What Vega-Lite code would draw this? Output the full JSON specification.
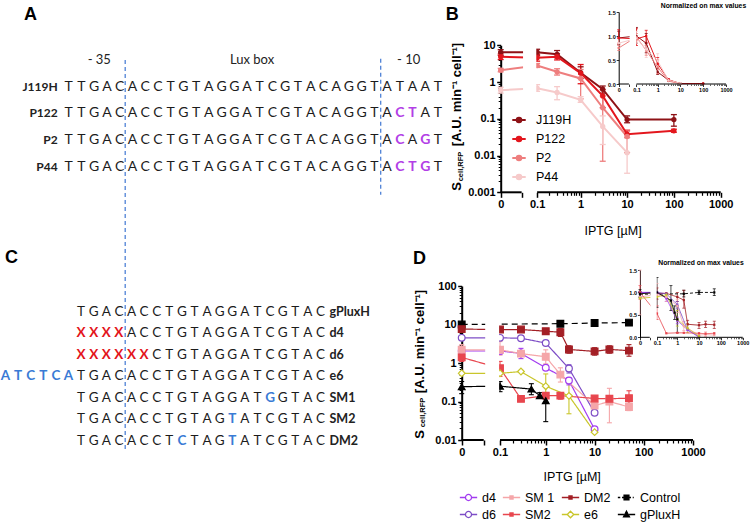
{
"$schema":"https://vega.github.io/schema/vega-lite/v6.json",
"width":750,"height":523,"autosize":{"type":"none"},"padding":0,"background":"white",
"config":{"view":{"stroke":null},"font":"Liberation Sans",
 "axis":{"grid":false,"domainColor":"#000","tickColor":"#000","labelColor":"#000","titleColor":"#000","labelFont":"Liberation Sans","titleFont":"Liberation Sans","labelFontWeight":"bold","labelOverlap":false,"labelFlush":false,"labelBound":false}},
"datasets":{
"seqA":[
{"r":1,"p":-5,"c":"T"},{"r":1,"p":-4,"c":"T"},{"r":1,"p":-3,"c":"G"},{"r":1,"p":-2,"c":"A"},{"r":1,"p":-1,"c":"C"},{"r":1,"p":0,"c":"A"},{"r":1,"p":1,"c":"C"},{"r":1,"p":2,"c":"C"},{"r":1,"p":3,"c":"T"},{"r":1,"p":4,"c":"G"},{"r":1,"p":5,"c":"T"},{"r":1,"p":6,"c":"A"},{"r":1,"p":7,"c":"G"},{"r":1,"p":8,"c":"G"},{"r":1,"p":9,"c":"A"},{"r":1,"p":10,"c":"T"},{"r":1,"p":11,"c":"C"},{"r":1,"p":12,"c":"G"},{"r":1,"p":13,"c":"T"},{"r":1,"p":14,"c":"A"},{"r":1,"p":15,"c":"C"},{"r":1,"p":16,"c":"A"},{"r":1,"p":17,"c":"G"},{"r":1,"p":18,"c":"G"},{"r":1,"p":19,"c":"T"},{"r":1,"p":20,"c":"A"},{"r":1,"p":21,"c":"T"},{"r":1,"p":22,"c":"A"},{"r":1,"p":23,"c":"A"},{"r":1,"p":24,"c":"T"},
{"r":2,"p":-5,"c":"T"},{"r":2,"p":-4,"c":"T"},{"r":2,"p":-3,"c":"G"},{"r":2,"p":-2,"c":"A"},{"r":2,"p":-1,"c":"C"},{"r":2,"p":0,"c":"A"},{"r":2,"p":1,"c":"C"},{"r":2,"p":2,"c":"C"},{"r":2,"p":3,"c":"T"},{"r":2,"p":4,"c":"G"},{"r":2,"p":5,"c":"T"},{"r":2,"p":6,"c":"A"},{"r":2,"p":7,"c":"G"},{"r":2,"p":8,"c":"G"},{"r":2,"p":9,"c":"A"},{"r":2,"p":10,"c":"T"},{"r":2,"p":11,"c":"C"},{"r":2,"p":12,"c":"G"},{"r":2,"p":13,"c":"T"},{"r":2,"p":14,"c":"A"},{"r":2,"p":15,"c":"C"},{"r":2,"p":16,"c":"A"},{"r":2,"p":17,"c":"G"},{"r":2,"p":18,"c":"G"},{"r":2,"p":19,"c":"T"},{"r":2,"p":20,"c":"A"},{"r":2,"p":21,"c":"C","k":"m"},{"r":2,"p":22,"c":"T","k":"m"},{"r":2,"p":23,"c":"A"},{"r":2,"p":24,"c":"T"},
{"r":3,"p":-5,"c":"T"},{"r":3,"p":-4,"c":"T"},{"r":3,"p":-3,"c":"G"},{"r":3,"p":-2,"c":"A"},{"r":3,"p":-1,"c":"C"},{"r":3,"p":0,"c":"A"},{"r":3,"p":1,"c":"C"},{"r":3,"p":2,"c":"C"},{"r":3,"p":3,"c":"T"},{"r":3,"p":4,"c":"G"},{"r":3,"p":5,"c":"T"},{"r":3,"p":6,"c":"A"},{"r":3,"p":7,"c":"G"},{"r":3,"p":8,"c":"G"},{"r":3,"p":9,"c":"A"},{"r":3,"p":10,"c":"T"},{"r":3,"p":11,"c":"C"},{"r":3,"p":12,"c":"G"},{"r":3,"p":13,"c":"T"},{"r":3,"p":14,"c":"A"},{"r":3,"p":15,"c":"C"},{"r":3,"p":16,"c":"A"},{"r":3,"p":17,"c":"G"},{"r":3,"p":18,"c":"G"},{"r":3,"p":19,"c":"T"},{"r":3,"p":20,"c":"A"},{"r":3,"p":21,"c":"C","k":"m"},{"r":3,"p":22,"c":"A"},{"r":3,"p":23,"c":"G","k":"m"},{"r":3,"p":24,"c":"T"},
{"r":4,"p":-5,"c":"T"},{"r":4,"p":-4,"c":"T"},{"r":4,"p":-3,"c":"G"},{"r":4,"p":-2,"c":"A"},{"r":4,"p":-1,"c":"C"},{"r":4,"p":0,"c":"A"},{"r":4,"p":1,"c":"C"},{"r":4,"p":2,"c":"C"},{"r":4,"p":3,"c":"T"},{"r":4,"p":4,"c":"G"},{"r":4,"p":5,"c":"T"},{"r":4,"p":6,"c":"A"},{"r":4,"p":7,"c":"G"},{"r":4,"p":8,"c":"G"},{"r":4,"p":9,"c":"A"},{"r":4,"p":10,"c":"T"},{"r":4,"p":11,"c":"C"},{"r":4,"p":12,"c":"G"},{"r":4,"p":13,"c":"T"},{"r":4,"p":14,"c":"A"},{"r":4,"p":15,"c":"C"},{"r":4,"p":16,"c":"A"},{"r":4,"p":17,"c":"G"},{"r":4,"p":18,"c":"G"},{"r":4,"p":19,"c":"T"},{"r":4,"p":20,"c":"A"},{"r":4,"p":21,"c":"C","k":"m"},{"r":4,"p":22,"c":"T","k":"m"},{"r":4,"p":23,"c":"G","k":"m"},{"r":4,"p":24,"c":"T"}
],
"hdrA":[{"t":"- 35","p":-2.6,"r":0},{"t":"Lux box","p":9.4,"r":0},{"t":"- 10","p":21.7,"r":0}],
"labA":[{"g":"J119H","r":1,"p":-5},{"g":"P122","r":2,"p":-5},{"g":"P2","r":3,"p":-5},{"g":"P44","r":4,"p":-5}],
"dashA":[{"p":19.5,"r1":-0.05,"r2":5.05}],
"seqC":[
{"r":0,"p":-4,"c":"T"},{"r":0,"p":-3,"c":"G"},{"r":0,"p":-2,"c":"A"},{"r":0,"p":-1,"c":"C"},{"r":0,"p":0,"c":"A"},{"r":0,"p":1,"c":"C"},{"r":0,"p":2,"c":"C"},{"r":0,"p":3,"c":"T"},{"r":0,"p":4,"c":"G"},{"r":0,"p":5,"c":"T"},{"r":0,"p":6,"c":"A"},{"r":0,"p":7,"c":"G"},{"r":0,"p":8,"c":"G"},{"r":0,"p":9,"c":"A"},{"r":0,"p":10,"c":"T"},{"r":0,"p":11,"c":"C"},{"r":0,"p":12,"c":"G"},{"r":0,"p":13,"c":"T"},{"r":0,"p":14,"c":"A"},{"r":0,"p":15,"c":"C"},
{"r":1,"p":-4,"c":"X","k":"x"},{"r":1,"p":-3,"c":"X","k":"x"},{"r":1,"p":-2,"c":"X","k":"x"},{"r":1,"p":-1,"c":"X","k":"x"},{"r":1,"p":0,"c":"A"},{"r":1,"p":1,"c":"C"},{"r":1,"p":2,"c":"C"},{"r":1,"p":3,"c":"T"},{"r":1,"p":4,"c":"G"},{"r":1,"p":5,"c":"T"},{"r":1,"p":6,"c":"A"},{"r":1,"p":7,"c":"G"},{"r":1,"p":8,"c":"G"},{"r":1,"p":9,"c":"A"},{"r":1,"p":10,"c":"T"},{"r":1,"p":11,"c":"C"},{"r":1,"p":12,"c":"G"},{"r":1,"p":13,"c":"T"},{"r":1,"p":14,"c":"A"},{"r":1,"p":15,"c":"C"},
{"r":2,"p":-4,"c":"X","k":"x"},{"r":2,"p":-3,"c":"X","k":"x"},{"r":2,"p":-2,"c":"X","k":"x"},{"r":2,"p":-1,"c":"X","k":"x"},{"r":2,"p":0,"c":"X","k":"x"},{"r":2,"p":1,"c":"X","k":"x"},{"r":2,"p":2,"c":"C"},{"r":2,"p":3,"c":"T"},{"r":2,"p":4,"c":"G"},{"r":2,"p":5,"c":"T"},{"r":2,"p":6,"c":"A"},{"r":2,"p":7,"c":"G"},{"r":2,"p":8,"c":"G"},{"r":2,"p":9,"c":"A"},{"r":2,"p":10,"c":"T"},{"r":2,"p":11,"c":"C"},{"r":2,"p":12,"c":"G"},{"r":2,"p":13,"c":"T"},{"r":2,"p":14,"c":"A"},{"r":2,"p":15,"c":"C"},
{"r":3,"p":-10,"c":"A","k":"b"},{"r":3,"p":-9,"c":"T","k":"b"},{"r":3,"p":-8,"c":"C","k":"b"},{"r":3,"p":-7,"c":"T","k":"b"},{"r":3,"p":-6,"c":"C","k":"b"},{"r":3,"p":-5,"c":"A","k":"b"},{"r":3,"p":-4,"c":"T"},{"r":3,"p":-3,"c":"G"},{"r":3,"p":-2,"c":"A"},{"r":3,"p":-1,"c":"C"},{"r":3,"p":0,"c":"A"},{"r":3,"p":1,"c":"C"},{"r":3,"p":2,"c":"C"},{"r":3,"p":3,"c":"T"},{"r":3,"p":4,"c":"G"},{"r":3,"p":5,"c":"T"},{"r":3,"p":6,"c":"A"},{"r":3,"p":7,"c":"G"},{"r":3,"p":8,"c":"G"},{"r":3,"p":9,"c":"A"},{"r":3,"p":10,"c":"T"},{"r":3,"p":11,"c":"C"},{"r":3,"p":12,"c":"G"},{"r":3,"p":13,"c":"T"},{"r":3,"p":14,"c":"A"},{"r":3,"p":15,"c":"C"},
{"r":4,"p":-4,"c":"T"},{"r":4,"p":-3,"c":"G"},{"r":4,"p":-2,"c":"A"},{"r":4,"p":-1,"c":"C"},{"r":4,"p":0,"c":"A"},{"r":4,"p":1,"c":"C"},{"r":4,"p":2,"c":"C"},{"r":4,"p":3,"c":"T"},{"r":4,"p":4,"c":"G"},{"r":4,"p":5,"c":"T"},{"r":4,"p":6,"c":"A"},{"r":4,"p":7,"c":"G"},{"r":4,"p":8,"c":"G"},{"r":4,"p":9,"c":"A"},{"r":4,"p":10,"c":"T"},{"r":4,"p":11,"c":"G","k":"b"},{"r":4,"p":12,"c":"G"},{"r":4,"p":13,"c":"T"},{"r":4,"p":14,"c":"A"},{"r":4,"p":15,"c":"C"},
{"r":5,"p":-4,"c":"T"},{"r":5,"p":-3,"c":"G"},{"r":5,"p":-2,"c":"A"},{"r":5,"p":-1,"c":"C"},{"r":5,"p":0,"c":"A"},{"r":5,"p":1,"c":"C"},{"r":5,"p":2,"c":"C"},{"r":5,"p":3,"c":"T"},{"r":5,"p":4,"c":"G"},{"r":5,"p":5,"c":"T"},{"r":5,"p":6,"c":"A"},{"r":5,"p":7,"c":"G"},{"r":5,"p":8,"c":"T","k":"b"},{"r":5,"p":9,"c":"A"},{"r":5,"p":10,"c":"T"},{"r":5,"p":11,"c":"C"},{"r":5,"p":12,"c":"G"},{"r":5,"p":13,"c":"T"},{"r":5,"p":14,"c":"A"},{"r":5,"p":15,"c":"C"},
{"r":6,"p":-4,"c":"T"},{"r":6,"p":-3,"c":"G"},{"r":6,"p":-2,"c":"A"},{"r":6,"p":-1,"c":"C"},{"r":6,"p":0,"c":"A"},{"r":6,"p":1,"c":"C"},{"r":6,"p":2,"c":"C"},{"r":6,"p":3,"c":"T"},{"r":6,"p":4,"c":"C","k":"b"},{"r":6,"p":5,"c":"T"},{"r":6,"p":6,"c":"A"},{"r":6,"p":7,"c":"G"},{"r":6,"p":8,"c":"T","k":"b"},{"r":6,"p":9,"c":"A"},{"r":6,"p":10,"c":"T"},{"r":6,"p":11,"c":"C"},{"r":6,"p":12,"c":"G"},{"r":6,"p":13,"c":"T"},{"r":6,"p":14,"c":"A"},{"r":6,"p":15,"c":"C"}
],
"labC":[{"g":"gPluxH","r":0,"p":15},{"g":"d4","r":1,"p":15},{"g":"d6","r":2,"p":15},{"g":"e6","r":3,"p":15},{"g":"SM1","r":4,"p":15},{"g":"SM2","r":5,"p":15},{"g":"DM2","r":6,"p":15}],
"dashC":[{"p":-0.5,"r1":-11.68,"r2":6.5}],
"brk":[{"a":0,"b":0.036},{"a":0.1,"b":1000}],
"gap":[{"a":0.04,"b":0.095}],
"bm":[
{"s":"J119H","x":0,"y":6.45,"lo":5.3,"hi":7.6},{"s":"J119H","x":0.1,"y":6.5,"lo":5.2,"hi":7.8},{"s":"J119H","x":0.3,"y":5.7,"lo":4.6,"hi":7.2},{"s":"J119H","x":1,"y":1.8,"lo":1.25,"hi":2.6},{"s":"J119H","x":3,"y":0.64,"lo":0.5,"hi":0.78},{"s":"J119H","x":10,"y":0.095,"lo":0.078,"hi":0.12},{"s":"J119H","x":100,"y":0.095,"lo":0.063,"hi":0.13},
{"s":"P122","x":0,"y":4.9,"lo":4.1,"hi":5.8},{"s":"P122","x":0.1,"y":4.6,"lo":3.7,"hi":5.6},{"s":"P122","x":0.3,"y":4.9,"lo":4.0,"hi":5.9},{"s":"P122","x":1,"y":1.75,"lo":0.9,"hi":3.0},{"s":"P122","x":3,"y":0.42,"lo":0.2,"hi":0.62},{"s":"P122","x":10,"y":0.038,"lo":0.031,"hi":0.047},{"s":"P122","x":100,"y":0.047,"lo":0.043,"hi":0.052},
{"s":"P2","x":0,"y":2.1,"lo":1.9,"hi":2.35},{"s":"P2","x":0.1,"y":2.8,"lo":2.5,"hi":3.2},{"s":"P2","x":0.3,"y":1.9,"lo":1.55,"hi":2.3},{"s":"P2","x":1,"y":1.25,"lo":0.35,"hi":2.2},{"s":"P2","x":3,"y":0.2,"lo":0.007,"hi":0.42},{"s":"P2","x":10,"y":0.033,"lo":0.012,"hi":0.05},
{"s":"P44","x":0,"y":0.6,"lo":0.5,"hi":0.72},{"s":"P44","x":0.1,"y":0.68,"lo":0.56,"hi":0.85},{"s":"P44","x":0.3,"y":0.52,"lo":0.33,"hi":0.75},{"s":"P44","x":1,"y":0.33,"lo":0.28,"hi":0.4},{"s":"P44","x":3,"y":0.062,"lo":0.02,"hi":0.12},{"s":"P44","x":10,"y":0.012,"lo":0.0033,"hi":0.03}
],
"bi":[
{"s":"J119H","x":0,"n":0.96,"nlo":0.82,"nhi":1.1},{"s":"J119H","x":0.1,"n":1.0,"nlo":0.85,"nhi":1.18},{"s":"J119H","x":0.3,"n":0.85,"nlo":0.65,"nhi":1.05},{"s":"J119H","x":1,"n":0.25,"nlo":0.2,"nhi":0.32},{"s":"J119H","x":3,"n":0.08,"nlo":0.06,"nhi":0.1},{"s":"J119H","x":10,"n":0.01},{"s":"J119H","x":100,"n":0.01},
{"s":"P122","x":0,"n":0.96,"nlo":0.85,"nhi":1.13},{"s":"P122","x":0.1,"n":0.94,"nlo":0.8,"nhi":1.15},{"s":"P122","x":0.3,"n":1.0,"nlo":0.87,"nhi":1.12},{"s":"P122","x":1,"n":0.42,"nlo":0.3,"nhi":0.55},{"s":"P122","x":3,"n":0.09,"nlo":0.07,"nhi":0.11},{"s":"P122","x":10,"n":0.008},{"s":"P122","x":100,"n":0.01},
{"s":"P2","x":0,"n":0.75,"nlo":0.7,"nhi":0.8},{"s":"P2","x":0.1,"n":0.98,"nlo":0.9,"nhi":1.05},{"s":"P2","x":0.3,"n":0.7,"nlo":0.6,"nhi":0.8},{"s":"P2","x":1,"n":0.35,"nlo":0.22,"nhi":0.5},{"s":"P2","x":3,"n":0.06},{"s":"P2","x":10,"n":0.005},
{"s":"P44","x":0,"n":0.85,"nlo":0.75,"nhi":0.95},{"s":"P44","x":0.1,"n":0.95,"nlo":0.85,"nhi":1.1},{"s":"P44","x":0.3,"n":0.72,"nlo":0.55,"nhi":0.85},{"s":"P44","x":1,"n":0.48,"nlo":0.3,"nhi":0.63},{"s":"P44","x":3,"n":0.08},{"s":"P44","x":10,"n":0.015}
],
"dm":[
{"s":"Control","x":0,"y":10.0,"lo":9.3,"hi":10.7},{"s":"Control","x":2,"y":10.5,"lo":9.8,"hi":11.3},{"s":"Control","x":10,"y":10.9,"lo":9.8,"hi":12.0},{"s":"Control","x":50,"y":11.2,"lo":10.4,"hi":12.0},
{"s":"DM2","x":0,"y":7.6,"lo":6.8,"hi":8.5},{"s":"DM2","x":0.1,"y":7.4,"lo":6.5,"hi":8.5},{"s":"DM2","x":0.3,"y":7.4,"lo":6.8,"hi":8.0},{"s":"DM2","x":1,"y":6.7,"lo":5.8,"hi":7.6},{"s":"DM2","x":2,"y":6.3,"lo":4.9,"hi":7.9},{"s":"DM2","x":3,"y":2.25,"lo":1.8,"hi":2.8},{"s":"DM2","x":10,"y":2.0,"lo":1.6,"hi":2.5},{"s":"DM2","x":20,"y":2.25,"lo":1.8,"hi":2.8},{"s":"DM2","x":50,"y":2.1,"lo":1.5,"hi":3.0},
{"s":"d6","x":0,"y":4.5,"lo":4.2,"hi":4.8},{"s":"d6","x":0.1,"y":4.5,"lo":4.1,"hi":4.9},{"s":"d6","x":0.3,"y":4.4,"lo":4.2,"hi":4.6},{"s":"d6","x":1,"y":3.3,"lo":2.9,"hi":3.7},{"s":"d6","x":3,"y":0.72,"lo":0.55,"hi":0.9},{"s":"d6","x":10,"y":0.051,"lo":0.045,"hi":0.058},
{"s":"d4","x":0,"y":2.05,"lo":1.8,"hi":2.3},{"s":"d4","x":0.1,"y":2.05,"lo":1.7,"hi":2.5},{"s":"d4","x":0.3,"y":1.78,"lo":1.3,"hi":2.4},{"s":"d4","x":1,"y":0.75,"lo":0.68,"hi":0.82},{"s":"d4","x":3,"y":0.35,"lo":0.27,"hi":0.42},{"s":"d4","x":10,"y":0.019,"lo":0.017,"hi":0.021},
{"s":"SM 1","x":0,"y":2.2,"lo":1.5,"hi":3.0},{"s":"SM 1","x":0.1,"y":2.2,"lo":1.6,"hi":3.6},{"s":"SM 1","x":0.3,"y":1.75,"lo":1.5,"hi":2.0},{"s":"SM 1","x":1,"y":1.45,"lo":0.95,"hi":2.2},{"s":"SM 1","x":2,"y":0.5,"lo":0.32,"hi":0.75},{"s":"SM 1","x":10,"y":0.078,"lo":0.065,"hi":0.09},{"s":"SM 1","x":20,"y":0.1,"lo":0.028,"hi":0.22},{"s":"SM 1","x":50,"y":0.072,"lo":0.058,"hi":0.09},
{"s":"SM2","x":0,"y":1.4,"lo":1.1,"hi":1.7},{"s":"SM2","x":0.1,"y":0.73,"lo":0.45,"hi":1.1},{"s":"SM2","x":0.3,"y":0.117,"lo":0.11,"hi":0.125},{"s":"SM2","x":1,"y":0.142,"lo":0.13,"hi":0.155},{"s":"SM2","x":2,"y":0.142,"lo":0.115,"hi":0.17},{"s":"SM2","x":10,"y":0.12,"lo":0.105,"hi":0.135},{"s":"SM2","x":20,"y":0.118,"lo":0.1,"hi":0.135},{"s":"SM2","x":50,"y":0.122,"lo":0.085,"hi":0.19},
{"s":"e6","x":0,"y":0.54,"lo":0.5,"hi":0.58},{"s":"e6","x":0.1,"y":0.54,"lo":0.5,"hi":0.6},{"s":"e6","x":0.3,"y":0.6,"lo":0.57,"hi":0.64},{"s":"e6","x":1,"y":0.25,"lo":0.15,"hi":0.52},{"s":"e6","x":3,"y":0.14,"lo":0.048,"hi":0.3},{"s":"e6","x":10,"y":0.016,"lo":0.015,"hi":0.017},
{"s":"gPluxH","x":0,"y":0.243,"lo":0.16,"hi":0.33},{"s":"gPluxH","x":0.1,"y":0.25,"lo":0.18,"hi":0.33},{"s":"gPluxH","x":0.5,"y":0.21,"lo":0.15,"hi":0.29},{"s":"gPluxH","x":0.75,"y":0.142,"lo":0.12,"hi":0.17},{"s":"gPluxH","x":1,"y":0.105,"lo":0.03,"hi":0.16}
],
"di":[
{"s":"Control","x":0,"n":0.96,"nlo":0.9,"nhi":1.02},{"s":"Control","x":2,"n":0.97,"nlo":0.9,"nhi":1.05},{"s":"Control","x":10,"n":1.0,"nlo":0.95,"nhi":1.05},{"s":"Control","x":50,"n":1.0,"nlo":0.93,"nhi":1.08},
{"s":"DM2","x":0,"n":1.0},{"s":"DM2","x":0.1,"n":0.98,"nlo":0.85,"nhi":1.1},{"s":"DM2","x":0.3,"n":0.98},{"s":"DM2","x":1,"n":0.9,"nlo":0.8,"nhi":1.0},{"s":"DM2","x":2,"n":0.83,"nlo":0.65,"nhi":1.05},{"s":"DM2","x":3,"n":0.29,"nlo":0.2,"nhi":0.38},{"s":"DM2","x":10,"n":0.27,"nlo":0.2,"nhi":0.33},{"s":"DM2","x":20,"n":0.29,"nlo":0.22,"nhi":0.36},{"s":"DM2","x":50,"n":0.28,"nlo":0.2,"nhi":0.36},
{"s":"d6","x":0,"n":1.0},{"s":"d6","x":0.1,"n":1.0},{"s":"d6","x":0.3,"n":0.97},{"s":"d6","x":1,"n":0.73,"nlo":0.65,"nhi":0.8},{"s":"d6","x":3,"n":0.16},{"s":"d6","x":10,"n":0.01},
{"s":"d4","x":0,"n":1.0},{"s":"d4","x":0.1,"n":1.0},{"s":"d4","x":0.3,"n":0.87,"nlo":0.8,"nhi":0.95},{"s":"d4","x":1,"n":0.37,"nlo":0.3,"nhi":0.45},{"s":"d4","x":3,"n":0.17},{"s":"d4","x":10,"n":0.01},
{"s":"SM 1","x":0,"n":0.9,"nlo":0.5,"nhi":1.5},{"s":"SM 1","x":0.1,"n":0.95,"nlo":0.7,"nhi":1.2},{"s":"SM 1","x":0.3,"n":0.9,"nlo":0.8,"nhi":1.0},{"s":"SM 1","x":1,"n":0.7,"nlo":0.55,"nhi":0.85},{"s":"SM 1","x":2,"n":0.25,"nlo":0.15,"nhi":0.35},{"s":"SM 1","x":10,"n":0.05},{"s":"SM 1","x":20,"n":0.06,"nlo":0.02,"nhi":0.12},{"s":"SM 1","x":50,"n":0.05},
{"s":"SM2","x":0,"n":1.0,"nlo":0.85,"nhi":1.15},{"s":"SM2","x":0.1,"n":0.53,"nlo":0.4,"nhi":0.7},{"s":"SM2","x":0.3,"n":0.09},{"s":"SM2","x":1,"n":0.1},{"s":"SM2","x":2,"n":0.1},{"s":"SM2","x":10,"n":0.09},{"s":"SM2","x":20,"n":0.08},{"s":"SM2","x":50,"n":0.09},
{"s":"e6","x":0,"n":0.87},{"s":"e6","x":0.1,"n":0.9},{"s":"e6","x":0.3,"n":0.95},{"s":"e6","x":1,"n":0.4,"nlo":0.25,"nhi":0.6},{"s":"e6","x":3,"n":0.2,"nlo":0.1,"nhi":0.3},{"s":"e6","x":10,"n":0.025},
{"s":"gPluxH","x":0,"n":0.97,"nlo":0.88,"nhi":1.06},{"s":"gPluxH","x":0.1,"n":1.0,"nlo":0.67,"nhi":1.33},{"s":"gPluxH","x":0.5,"n":0.82,"nlo":0.6,"nhi":1.15},{"s":"gPluxH","x":0.75,"n":0.55,"nlo":0.4,"nhi":0.7},{"s":"gPluxH","x":1,"n":0.4,"nlo":0.1,"nhi":0.7}
]
},
"layer":[
{"layer":[
 {"data":{"name":"dashA"},"mark":{"type":"rule","color":"#4F82D6","strokeDash":[4,3],"strokeWidth":1.3},
  "encoding":{"x":{"field":"p","type":"quantitative","scale":{"domain":[-5,24],"range":[68.7,438]},"axis":{"orient":"top","offset":-14.5,"domain":false,"ticks":false,"labels":false,"values":[],"title":"A","titleX":30,"titleY":0,"titleFontSize":18,"titleFontWeight":"bold","titleAlign":"center","titleBaseline":"middle","titleAngle":0}},
  "y":{"field":"r1","type":"quantitative","scale":{"domain":[0,4],"range":[60,166.8]},"axis":null},"y2":{"field":"r2"}}},
 {"data":{"name":"seqA"},"transform":[{"filter":"!datum.k"}],"mark":{"type":"text","font":"Lato","fontSize":14,"color":"#1c1c1c","baseline":"middle","align":"center"},
  "encoding":{"x":{"field":"p","type":"quantitative","scale":{"domain":[-5,24],"range":[68.7,438]},"axis":null},"y":{"field":"r","type":"quantitative","scale":{"domain":[0,4],"range":[60,166.8]},"axis":null},"text":{"field":"c"}}},
 {"data":{"name":"seqA"},"transform":[{"filter":"datum.k"}],"mark":{"type":"text","font":"Lato","fontSize":14,"fontWeight":"bold","color":"#B23EE6","baseline":"middle","align":"center"},
  "encoding":{"x":{"field":"p","type":"quantitative","scale":{"domain":[-5,24],"range":[68.7,438]},"axis":null},"y":{"field":"r","type":"quantitative","scale":{"domain":[0,4],"range":[60,166.8]},"axis":null},"text":{"field":"c"}}},
 {"data":{"name":"hdrA"},"mark":{"type":"text","font":"Lato","fontSize":13,"color":"#222","baseline":"middle","align":"center"},
  "encoding":{"x":{"field":"p","type":"quantitative","scale":{"domain":[-5,24],"range":[68.7,438]},"axis":null},"y":{"field":"r","type":"quantitative","scale":{"domain":[0,4],"range":[60,166.8]},"axis":null},"text":{"field":"t"}}},
 {"data":{"name":"labA"},"mark":{"type":"text","font":"Lato","fontSize":12,"fontWeight":"bold","color":"#222","baseline":"middle","align":"right","dx":-11},
  "encoding":{"x":{"field":"p","type":"quantitative","scale":{"domain":[-5,24],"range":[68.7,438]},"axis":null},"y":{"field":"r","type":"quantitative","scale":{"domain":[0,4],"range":[60,166.8]},"axis":null},"text":{"field":"g"}}}
],"resolve":{"axis":{"x":"independent","y":"independent"}}},
{"layer":[
 {"data":{"name":"dashC"},"mark":{"type":"rule","color":"#4F82D6","strokeDash":[4,3],"strokeWidth":1.3},
  "encoding":{"x":{"field":"p","type":"quantitative","scale":{"domain":[-10,15],"range":[5.5,320.5]},"axis":{"orient":"top","offset":-257,"domain":false,"ticks":false,"labels":false,"values":[],"title":"C","titleX":11,"titleY":0,"titleFontSize":18,"titleFontWeight":"bold","titleAlign":"center","titleBaseline":"middle","titleAngle":0}},
  "y":{"field":"r1","type":"quantitative","scale":{"domain":[0,6],"range":[311.7,441]},"axis":null},"y2":{"field":"r2"}}},
 {"data":{"name":"seqC"},"transform":[{"filter":"!datum.k"}],"mark":{"type":"text","font":"Lato","fontSize":13.5,"color":"#1c1c1c","baseline":"middle","align":"center"},
  "encoding":{"x":{"field":"p","type":"quantitative","scale":{"domain":[-10,15],"range":[5.5,320.5]},"axis":null},"y":{"field":"r","type":"quantitative","scale":{"domain":[0,6],"range":[311.7,441]},"axis":null},"text":{"field":"c"}}},
 {"data":{"name":"seqC"},"transform":[{"filter":"datum.k"}],"mark":{"type":"text","font":"Lato","fontSize":13.5,"fontWeight":"bold","baseline":"middle","align":"center"},
  "encoding":{"x":{"field":"p","type":"quantitative","scale":{"domain":[-10,15],"range":[5.5,320.5]},"axis":null},"y":{"field":"r","type":"quantitative","scale":{"domain":[0,6],"range":[311.7,441]},"axis":null},"text":{"field":"c"},
   "color":{"field":"k","type":"nominal","scale":{"domain":["x","b"],"range":["#E3141B","#3A7BD5"]},"legend":null}}},
 {"data":{"name":"labC"},"mark":{"type":"text","font":"Lato","fontSize":12.5,"fontWeight":"bold","color":"#222","baseline":"middle","align":"left","dx":9},
  "encoding":{"x":{"field":"p","type":"quantitative","scale":{"domain":[-10,15],"range":[5.5,320.5]},"axis":null},"y":{"field":"r","type":"quantitative","scale":{"domain":[0,6],"range":[311.7,441]},"axis":null},"text":{"field":"g"}}}
],"resolve":{"axis":{"x":"independent","y":"independent"}}},
{"layer":[
 {"layer":[
  {"data":{"name":"bm"},"mark":{"type":"rule","strokeWidth":1.3},
   "encoding":{"x":{"field":"x","type":"quantitative","scale":{"type":"symlog","constant":0.02,"domain":[0,1000],"range":[500.7,720.7]},"axis":null},
    "y":{"field":"lo","type":"quantitative","scale":{"type":"log","domain":[0.001,10],"range":[192.3,45.3]},"axis":{"orient":"left","offset":-500.7,"values":[],"ticks":false,"labels":false,"domain":false,"title":"[A.U. min⁻¹ cell⁻¹]","titleFontSize":13,"titleFontWeight":"bold","titleX":-44,"titleY":94,"titleAlign":"center","titleBaseline":"middle","titleAngle":270}},
    "y2":{"field":"hi"},
    "color":{"field":"s","type":"nominal","scale":{"domain":["J119H","P122","P2","P44"],"range":["#8E1216","#E3161D","#EE7E7E","#F6CACA"]},"legend":null}}},
  {"data":{"name":"bm"},"mark":{"type":"tick","orient":"horizontal","size":6,"thickness":1.3,"opacity":1},
   "encoding":{"x":{"field":"x","type":"quantitative","scale":{"type":"symlog","constant":0.02,"domain":[0,1000],"range":[500.7,720.7]},"axis":null},
    "y":{"field":"lo","type":"quantitative","scale":{"type":"log","domain":[0.001,10],"range":[192.3,45.3]},"axis":null},
    "color":{"field":"s","type":"nominal","scale":{"domain":["J119H","P122","P2","P44"],"range":["#8E1216","#E3161D","#EE7E7E","#F6CACA"]},"legend":null}}},
  {"data":{"name":"bm"},"mark":{"type":"tick","orient":"horizontal","size":6,"thickness":1.3,"opacity":1},
   "encoding":{"x":{"field":"x","type":"quantitative","scale":{"type":"symlog","constant":0.02,"domain":[0,1000],"range":[500.7,720.7]},"axis":null},
    "y":{"field":"hi","type":"quantitative","scale":{"type":"log","domain":[0.001,10],"range":[192.3,45.3]},"axis":null},
    "color":{"field":"s","type":"nominal","scale":{"domain":["J119H","P122","P2","P44"],"range":["#8E1216","#E3161D","#EE7E7E","#F6CACA"]},"legend":null}}},
  {"data":{"name":"bm"},"mark":{"type":"line","strokeWidth":2},
   "encoding":{"x":{"field":"x","type":"quantitative","scale":{"type":"symlog","constant":0.02,"domain":[0,1000],"range":[500.7,720.7]},
     "axis":{"orient":"bottom","offset":-330.7,"values":[0,0.036,0.1,1,10,100,1000],"labelExpr":"datum.value > 0.03 && datum.value < 0.05 ? '' : format(datum.value, '~g')","domain":false,"tickSize":5,"tickWidth":1.5,"labelFontSize":11,"labelPadding":1.5,"title":"IPTG [µM]","titleFontSize":12.5,"titleFontWeight":"normal","titleX":612.5,"titleY":38,"titleAlign":"center","titleBaseline":"middle"}},
    "y":{"field":"y","type":"quantitative","scale":{"type":"log","domain":[0.001,10],"range":[192.3,45.3]},
     "axis":{"orient":"left","offset":-500.7,"values":[0.001,0.01,0.1,1,10],"format":"~g","domainWidth":2,"tickSize":4,"tickWidth":1.5,"labelFontSize":11,"labelPadding":1.5,"title":"S","titleFontSize":13,"titleFontWeight":"bold","titleX":-44,"titleY":186,"titleAlign":"center","titleBaseline":"middle","titleAngle":270}},
    "color":{"field":"s","type":"nominal","scale":{"domain":["J119H","P122","P2","P44"],"range":["#8E1216","#E3161D","#EE7E7E","#F6CACA"]},"legend":null}}},
  {"data":{"name":"bm"},"mark":{"type":"point","filled":true,"size":28,"opacity":1},
   "encoding":{"x":{"field":"x","type":"quantitative","scale":{"type":"symlog","constant":0.02,"domain":[0,1000],"range":[500.7,720.7]},
     "axis":{"orient":"bottom","offset":-330.7,"values":[0.2,0.3,0.4,0.5,0.6,0.7,0.8,0.9,2,3,4,5,6,7,8,9,20,30,40,50,60,70,80,90,200,300,400,500,600,700,800,900],"labels":false,"domain":false,"tickSize":3,"tickWidth":1.2,"title":"B","titleFontSize":18,"titleFontWeight":"bold","titleX":451.7,"titleY":-178.3,"titleAlign":"center","titleBaseline":"middle"}},
    "y":{"field":"y","type":"quantitative","scale":{"type":"log","domain":[0.001,10],"range":[192.3,45.3]},
     "axis":{"orient":"left","offset":-500.7,"values":[0.002,0.003,0.004,0.005,0.006,0.007,0.008,0.009,0.02,0.03,0.04,0.05,0.06,0.07,0.08,0.09,0.2,0.3,0.4,0.5,0.6,0.7,0.8,0.9,2,3,4,5,6,7,8,9],"labels":false,"domain":false,"tickSize":2.5,"tickWidth":1,"title":"cell,RFP","titleFontSize":7.5,"titleFontWeight":"bold","titleX":-40.5,"titleY":166,"titleAlign":"center","titleBaseline":"middle","titleAngle":270}},
    "color":{"field":"s","type":"nominal","scale":{"domain":["J119H","P122","P2","P44"],"range":["#8E1216","#E3161D","#EE7E7E","#F6CACA"]},"legend":null}}},
  {"data":{"name":"gap"},"mark":{"type":"rect","color":"white"},
   "encoding":{"x":{"field":"a","type":"quantitative","scale":{"type":"symlog","constant":0.02,"domain":[0,1000],"range":[500.7,720.7]},"axis":null},"x2":{"field":"b"},
    "y":{"datum":0.001,"type":"quantitative","scale":{"type":"log","domain":[0.001,10],"range":[192.3,45.3]},"axis":null},"y2":{"datum":10}}},
  {"data":{"name":"brk"},"mark":{"type":"rule","color":"black","strokeWidth":2},
   "encoding":{"x":{"field":"a","type":"quantitative","scale":{"type":"symlog","constant":0.02,"domain":[0,1000],"range":[500.7,720.7]},"axis":null},"x2":{"field":"b"},
    "y":{"datum":0.001,"type":"quantitative","scale":{"type":"log","domain":[0.001,10],"range":[192.3,45.3]},"axis":null}}}
 ],"resolve":{"axis":{"x":"independent","y":"independent"}}},
 {"data":{"name":"bm"},"transform":[{"filter":"false"}],"mark":{"type":"point","filled":true,"opacity":1,"strokeWidth":2},
  "encoding":{
   "fill":{"field":"s","type":"nominal","scale":{"domain":["J119H","P122","P2","P44"],"range":["#8E1216","#E3161D","#EE7E7E","#F6CACA"]},"legend":{"orient":"none","legendX":511,"legendY":112,"title":null,"symbolSize":180,"symbolStrokeWidth":2,"labelFontSize":12.5,"labelFont":"Liberation Sans","labelFontWeight":"normal","labelColor":"#000","rowPadding":4,"labelOffset":9}},
   "stroke":{"field":"s","type":"nominal","scale":{"domain":["J119H","P122","P2","P44"],"range":["#8E1216","#E3161D","#EE7E7E","#F6CACA"]},"legend":{"orient":"none","legendX":511,"legendY":112,"title":null,"symbolSize":180,"symbolStrokeWidth":2,"labelFontSize":12.5,"labelFont":"Liberation Sans","labelFontWeight":"normal","labelColor":"#000","rowPadding":4,"labelOffset":9}},
   "shape":{"field":"s","type":"nominal","scale":{"domain":["J119H","P122","P2","P44"],"range":["M-1,0H1M-0.34,0A0.34,0.34,0,1,1,0.34,0A0.34,0.34,0,1,1,-0.34,0Z","M-1,0H1M-0.34,0A0.34,0.34,0,1,1,0.34,0A0.34,0.34,0,1,1,-0.34,0Z","M-1,0H1M-0.34,0A0.34,0.34,0,1,1,0.34,0A0.34,0.34,0,1,1,-0.34,0Z","M-1,0H1M-0.34,0A0.34,0.34,0,1,1,0.34,0A0.34,0.34,0,1,1,-0.34,0Z"]},"legend":{"orient":"none","legendX":511,"legendY":112,"title":null,"symbolSize":180,"symbolStrokeWidth":2,"labelFontSize":12.5,"labelFont":"Liberation Sans","labelFontWeight":"normal","labelColor":"#000","rowPadding":4,"labelOffset":9}}}}
],"resolve":{"scale":{"fill":"independent","stroke":"independent","shape":"independent","color":"independent"},"axis":{"x":"independent","y":"independent"}}},
{"layer":[
 {"data":{"name":"bi"},"mark":{"type":"rule","strokeWidth":0.8},
  "encoding":{"x":{"field":"x","type":"quantitative","scale":{"type":"symlog","constant":0.02,"domain":[0,1000],"range":[618.7,726]},"axis":null},
   "y":{"field":"nlo","type":"quantitative","scale":{"domain":[0,1.5],"range":[84,12]},"axis":null},"y2":{"field":"nhi"},
   "color":{"field":"s","type":"nominal","scale":{"domain":["J119H","P122","P2","P44"],"range":["#8E1216","#E3161D","#EE7E7E","#F6CACA"]},"legend":null}}},
 {"data":{"name":"bi"},"mark":{"type":"tick","orient":"horizontal","size":3,"thickness":0.8,"opacity":1},
  "encoding":{"x":{"field":"x","type":"quantitative","scale":{"type":"symlog","constant":0.02,"domain":[0,1000],"range":[618.7,726]},"axis":null},
   "y":{"field":"nlo","type":"quantitative","scale":{"domain":[0,1.5],"range":[84,12]},"axis":null},
   "color":{"field":"s","type":"nominal","scale":{"domain":["J119H","P122","P2","P44"],"range":["#8E1216","#E3161D","#EE7E7E","#F6CACA"]},"legend":null}}},
 {"data":{"name":"bi"},"mark":{"type":"tick","orient":"horizontal","size":3,"thickness":0.8,"opacity":1},
  "encoding":{"x":{"field":"x","type":"quantitative","scale":{"type":"symlog","constant":0.02,"domain":[0,1000],"range":[618.7,726]},"axis":null},
   "y":{"field":"nhi","type":"quantitative","scale":{"domain":[0,1.5],"range":[84,12]},"axis":null},
   "color":{"field":"s","type":"nominal","scale":{"domain":["J119H","P122","P2","P44"],"range":["#8E1216","#E3161D","#EE7E7E","#F6CACA"]},"legend":null}}},
 {"data":{"name":"bi"},"mark":{"type":"line","strokeWidth":1},
  "encoding":{"x":{"field":"x","type":"quantitative","scale":{"type":"symlog","constant":0.02,"domain":[0,1000],"range":[618.7,726]},
    "axis":{"orient":"bottom","offset":-439,"values":[0,0.036,0.1,1,10,100,1000],"labelExpr":"datum.value > 0.03 && datum.value < 0.05 ? '' : format(datum.value, '~g')","domain":false,"tickSize":2.5,"tickWidth":0.8,"labelFontSize":5.5,"labelPadding":1,"title":null}},
   "y":{"field":"n","type":"quantitative","scale":{"domain":[0,1.5],"range":[84,12]},
    "axis":{"orient":"left","offset":-618.7,"values":[0,0.5,1,1.5],"format":".1f","domainWidth":1,"tickSize":2.5,"tickWidth":0.8,"labelFontSize":5.5,"labelPadding":1,"title":null}},
   "color":{"field":"s","type":"nominal","scale":{"domain":["J119H","P122","P2","P44"],"range":["#8E1216","#E3161D","#EE7E7E","#F6CACA"]},"legend":null}}},
 {"data":{"name":"bi"},"mark":{"type":"point","filled":true,"size":6,"opacity":1},
  "encoding":{"x":{"field":"x","type":"quantitative","scale":{"type":"symlog","constant":0.02,"domain":[0,1000],"range":[618.7,726]},
    "axis":{"orient":"bottom","offset":-439,"values":[0.2,0.3,0.4,0.5,0.6,0.7,0.8,0.9,2,3,4,5,6,7,8,9,20,30,40,50,60,70,80,90,200,300,400,500,600,700,800,900],"labels":false,"domain":false,"tickSize":1.5,"tickWidth":0.6,"title":"Normalized on max values","titleFontSize":6.8,"titleFontWeight":"bold","titleX":703,"titleY":-79,"titleAlign":"center","titleBaseline":"middle"}},
   "y":{"field":"n","type":"quantitative","scale":{"domain":[0,1.5],"range":[84,12]},"axis":null},
   "color":{"field":"s","type":"nominal","scale":{"domain":["J119H","P122","P2","P44"],"range":["#8E1216","#E3161D","#EE7E7E","#F6CACA"]},"legend":null}}},
 {"data":{"name":"gap"},"mark":{"type":"rect","color":"white"},
  "encoding":{"x":{"field":"a","type":"quantitative","scale":{"type":"symlog","constant":0.02,"domain":[0,1000],"range":[618.7,726]},"axis":null},"x2":{"field":"b"},
   "y":{"datum":0,"type":"quantitative","scale":{"domain":[0,1.5],"range":[84,12]},"axis":null},"y2":{"datum":1.5}}},
 {"data":{"name":"brk"},"mark":{"type":"rule","color":"black","strokeWidth":1},
  "encoding":{"x":{"field":"a","type":"quantitative","scale":{"type":"symlog","constant":0.02,"domain":[0,1000],"range":[618.7,726]},"axis":null},"x2":{"field":"b"},
   "y":{"datum":0,"type":"quantitative","scale":{"domain":[0,1.5],"range":[84,12]},"axis":null}}}
],"resolve":{"axis":{"x":"independent","y":"independent"}}},
{"layer":[
 {"layer":[
  {"data":{"name":"dm"},"mark":{"type":"rule","strokeWidth":1.1},
   "encoding":{"x":{"field":"x","type":"quantitative","scale":{"type":"symlog","constant":0.02,"domain":[0,1000],"range":[461.7,693]},"axis":null},
    "y":{"field":"lo","type":"quantitative","scale":{"type":"log","domain":[0.01,100],"range":[440,286]},"axis":{"orient":"left","offset":-461.7,"values":[],"ticks":false,"labels":false,"domain":false,"title":"[A.U. min⁻¹ cell⁻¹]","titleFontSize":13,"titleFontWeight":"bold","titleX":-42.5,"titleY":341,"titleAlign":"center","titleBaseline":"middle","titleAngle":270}},
    "y2":{"field":"hi"},
    "color":{"field":"s","type":"nominal","scale":{"domain":["d4","d6","SM 1","SM2","DM2","e6","Control","gPluxH"],"range":["#A23CF0","#7D4DC6","#F5A6A9","#E8464E","#A31F25","#C9C62B","#000000","#000000"]},"legend":null}}},
  {"data":{"name":"dm"},"mark":{"type":"tick","orient":"horizontal","size":5,"thickness":1.1,"opacity":1},
   "encoding":{"x":{"field":"x","type":"quantitative","scale":{"type":"symlog","constant":0.02,"domain":[0,1000],"range":[461.7,693]},"axis":null},
    "y":{"field":"lo","type":"quantitative","scale":{"type":"log","domain":[0.01,100],"range":[440,286]},"axis":null},
    "color":{"field":"s","type":"nominal","scale":{"domain":["d4","d6","SM 1","SM2","DM2","e6","Control","gPluxH"],"range":["#A23CF0","#7D4DC6","#F5A6A9","#E8464E","#A31F25","#C9C62B","#000000","#000000"]},"legend":null}}},
  {"data":{"name":"dm"},"mark":{"type":"tick","orient":"horizontal","size":5,"thickness":1.1,"opacity":1},
   "encoding":{"x":{"field":"x","type":"quantitative","scale":{"type":"symlog","constant":0.02,"domain":[0,1000],"range":[461.7,693]},"axis":null},
    "y":{"field":"hi","type":"quantitative","scale":{"type":"log","domain":[0.01,100],"range":[440,286]},"axis":null},
    "color":{"field":"s","type":"nominal","scale":{"domain":["d4","d6","SM 1","SM2","DM2","e6","Control","gPluxH"],"range":["#A23CF0","#7D4DC6","#F5A6A9","#E8464E","#A31F25","#C9C62B","#000000","#000000"]},"legend":null}}},
  {"data":{"name":"dm"},"mark":{"type":"line"},
   "encoding":{"x":{"field":"x","type":"quantitative","scale":{"type":"symlog","constant":0.02,"domain":[0,1000],"range":[461.7,693]},
     "axis":{"orient":"bottom","offset":-83,"values":[0,0.036,0.1,1,10,100,1000],"labelExpr":"datum.value > 0.03 && datum.value < 0.05 ? '' : format(datum.value, '~g')","domain":false,"tickSize":5,"tickWidth":1.5,"labelFontSize":11,"labelPadding":1.5,"title":"IPTG [µM]","titleFontSize":12.5,"titleFontWeight":"normal","titleX":571.7,"titleY":36.7,"titleAlign":"center","titleBaseline":"middle"}},
    "y":{"field":"y","type":"quantitative","scale":{"type":"log","domain":[0.01,100],"range":[440,286]},
     "axis":{"orient":"left","offset":-461.7,"values":[0.01,0.1,1,10,100],"format":"~g","domainWidth":2,"tickSize":4,"tickWidth":1.5,"labelFontSize":11,"labelPadding":1.5,"title":"S","titleFontSize":13,"titleFontWeight":"bold","titleX":-42.7,"titleY":434,"titleAlign":"center","titleBaseline":"middle","titleAngle":270}},
    "color":{"field":"s","type":"nominal","scale":{"domain":["d4","d6","SM 1","SM2","DM2","e6","Control","gPluxH"],"range":["#A23CF0","#7D4DC6","#F5A6A9","#E8464E","#A31F25","#C9C62B","#000000","#000000"]},"legend":null},
    "strokeDash":{"field":"s","type":"nominal","scale":{"domain":["d4","d6","SM 1","SM2","DM2","e6","Control","gPluxH"],"range":[[1,0],[1,0],[1,0],[1,0],[1,0],[1,0],[6,4],[1,0]]},"legend":null},
    "strokeWidth":{"field":"s","type":"nominal","scale":{"domain":["d4","d6","SM 1","SM2","DM2","e6","Control","gPluxH"],"range":[1.2,1.2,1.2,1.2,1.2,1.2,2,1.2]},"legend":null}}},
  {"data":{"name":"dm"},"mark":{"type":"point","filled":true,"opacity":1,"strokeWidth":1.2},
   "encoding":{"x":{"field":"x","type":"quantitative","scale":{"type":"symlog","constant":0.02,"domain":[0,1000],"range":[461.7,693]},
     "axis":{"orient":"bottom","offset":-83,"values":[0.2,0.3,0.4,0.5,0.6,0.7,0.8,0.9,2,3,4,5,6,7,8,9,20,30,40,50,60,70,80,90,200,300,400,500,600,700,800,900],"labels":false,"domain":false,"tickSize":3,"tickWidth":1.2,"title":"D","titleFontSize":18,"titleFontWeight":"bold","titleX":419,"titleY":-182,"titleAlign":"center","titleBaseline":"middle"}},
    "y":{"field":"y","type":"quantitative","scale":{"type":"log","domain":[0.01,100],"range":[440,286]},
     "axis":{"orient":"left","offset":-461.7,"values":[0.02,0.03,0.04,0.05,0.06,0.07,0.08,0.09,0.2,0.3,0.4,0.5,0.6,0.7,0.8,0.9,2,3,4,5,6,7,8,9,20,30,40,50,60,70,80,90],"labels":false,"domain":false,"tickSize":2.5,"tickWidth":1,"title":"cell,RFP","titleFontSize":7.5,"titleFontWeight":"bold","titleX":-39.5,"titleY":412,"titleAlign":"center","titleBaseline":"middle","titleAngle":270}},
    "fill":{"field":"s","type":"nominal","scale":{"domain":["d4","d6","SM 1","SM2","DM2","e6","Control","gPluxH"],"range":["#ffffff","#ffffff","#F5A6A9","#E8464E","#A31F25","#ffffff","#000000","#000000"]},"legend":null},
    "stroke":{"field":"s","type":"nominal","scale":{"domain":["d4","d6","SM 1","SM2","DM2","e6","Control","gPluxH"],"range":["#A23CF0","#7D4DC6","#F5A6A9","#E8464E","#A31F25","#C9C62B","#000000","#000000"]},"legend":null},
    "shape":{"field":"s","type":"nominal","scale":{"domain":["d4","d6","SM 1","SM2","DM2","e6","Control","gPluxH"],"range":["circle","circle","square","square","square","diamond","square","triangle-up"]},"legend":null},
    "size":{"field":"s","type":"nominal","scale":{"domain":["d4","d6","SM 1","SM2","DM2","e6","Control","gPluxH"],"range":[45,45,10,10,10,35,38,45]},"legend":null}}},
  {"data":{"name":"gap"},"mark":{"type":"rect","color":"white"},
   "encoding":{"x":{"field":"a","type":"quantitative","scale":{"type":"symlog","constant":0.02,"domain":[0,1000],"range":[461.7,693]},"axis":null},"x2":{"field":"b"},
    "y":{"datum":0.01,"type":"quantitative","scale":{"type":"log","domain":[0.01,100],"range":[440,286]},"axis":null},"y2":{"datum":100}}},
  {"data":{"name":"brk"},"mark":{"type":"rule","color":"black","strokeWidth":2},
   "encoding":{"x":{"field":"a","type":"quantitative","scale":{"type":"symlog","constant":0.02,"domain":[0,1000],"range":[461.7,693]},"axis":null},"x2":{"field":"b"},
    "y":{"datum":0.01,"type":"quantitative","scale":{"type":"log","domain":[0.01,100],"range":[440,286]},"axis":null}}}
 ],"resolve":{"axis":{"x":"independent","y":"independent"}}},
 {"data":{"name":"dm"},"transform":[{"filter":"false"}],"mark":{"type":"point","filled":true,"opacity":1,"strokeWidth":1.3},
  "encoding":{
   "fill":{"field":"s","type":"nominal","scale":{"domain":["d4","SM 1","DM2","Control","d6","SM2","e6","gPluxH"],"range":["#ffffff","#F5A6A9","#A31F25","#000000","#ffffff","#E8464E","#ffffff","#000000"]},"legend":{"orient":"none","legendX":459,"legendY":488,"title":null,"columns":4,"direction":"horizontal","symbolSize":300,"symbolStrokeWidth":1.3,"labelFontSize":12.5,"labelFont":"Liberation Sans","labelFontWeight":"normal","labelColor":"#000","rowPadding":1,"columnPadding":4,"labelOffset":4}},
   "stroke":{"field":"s","type":"nominal","scale":{"domain":["d4","SM 1","DM2","Control","d6","SM2","e6","gPluxH"],"range":["#A23CF0","#F5A6A9","#A31F25","#000000","#7D4DC6","#E8464E","#C9C62B","#000000"]},"legend":{"orient":"none","legendX":459,"legendY":488,"title":null,"columns":4,"direction":"horizontal","symbolSize":300,"symbolStrokeWidth":1.3,"labelFontSize":12.5,"labelFont":"Liberation Sans","labelFontWeight":"normal","labelColor":"#000","rowPadding":1,"columnPadding":4,"labelOffset":4}},
   "shape":{"field":"s","type":"nominal","scale":{"domain":["d4","SM 1","DM2","Control","d6","SM2","e6","gPluxH"],"range":["M-1,0H-0.35M0.35,0H1M-0.35,0A0.35,0.35,0,1,1,0.35,0A0.35,0.35,0,1,1,-0.35,0Z","M-1,0H-0.18M0.18,0H1M-0.18,-0.18H0.18V0.18H-0.18Z","M-1,0H-0.18M0.18,0H1M-0.18,-0.18H0.18V0.18H-0.18Z","M-1,0H-0.72M-0.52,0H-0.28M0.28,0H0.52M0.72,0H0.84M-0.28,-0.28H0.28V0.28H-0.28Z","M-1,0H-0.35M0.35,0H1M-0.35,0A0.35,0.35,0,1,1,0.35,0A0.35,0.35,0,1,1,-0.35,0Z","M-1,0H-0.18M0.18,0H1M-0.18,-0.18H0.18V0.18H-0.18Z","M-1,0H-0.38M0.38,0H1M0,-0.38L0.38,0L0,0.38L-0.38,0Z","M-1,0H-0.3M0.3,0H1M0,-0.38L0.34,0.26L-0.34,0.26Z"]},"legend":{"orient":"none","legendX":459,"legendY":488,"title":null,"columns":4,"direction":"horizontal","symbolSize":300,"symbolStrokeWidth":1.3,"labelFontSize":12.5,"labelFont":"Liberation Sans","labelFontWeight":"normal","labelColor":"#000","rowPadding":1,"columnPadding":4,"labelOffset":4}}}}
],"resolve":{"scale":{"fill":"independent","stroke":"independent","shape":"independent","color":"independent","size":"independent","strokeDash":"independent","strokeWidth":"independent"},"axis":{"x":"independent","y":"independent"}}},
{"layer":[
 {"data":{"name":"di"},"mark":{"type":"rule","strokeWidth":0.7},
  "encoding":{"x":{"field":"x","type":"quantitative","scale":{"type":"symlog","constant":0.02,"domain":[0,1000],"range":[640,742.7]},"axis":null},
   "y":{"field":"nlo","type":"quantitative","scale":{"domain":[0,1.5],"range":[337.3,270]},"axis":null},"y2":{"field":"nhi"},
   "color":{"field":"s","type":"nominal","scale":{"domain":["d4","d6","SM 1","SM2","DM2","e6","Control","gPluxH"],"range":["#A23CF0","#7D4DC6","#F5A6A9","#E8464E","#A31F25","#C9C62B","#000000","#000000"]},"legend":null}}},
 {"data":{"name":"di"},"mark":{"type":"tick","orient":"horizontal","size":3,"thickness":0.7,"opacity":1},
  "encoding":{"x":{"field":"x","type":"quantitative","scale":{"type":"symlog","constant":0.02,"domain":[0,1000],"range":[640,742.7]},"axis":null},
   "y":{"field":"nlo","type":"quantitative","scale":{"domain":[0,1.5],"range":[337.3,270]},"axis":null},
   "color":{"field":"s","type":"nominal","scale":{"domain":["d4","d6","SM 1","SM2","DM2","e6","Control","gPluxH"],"range":["#A23CF0","#7D4DC6","#F5A6A9","#E8464E","#A31F25","#C9C62B","#000000","#000000"]},"legend":null}}},
 {"data":{"name":"di"},"mark":{"type":"tick","orient":"horizontal","size":3,"thickness":0.7,"opacity":1},
  "encoding":{"x":{"field":"x","type":"quantitative","scale":{"type":"symlog","constant":0.02,"domain":[0,1000],"range":[640,742.7]},"axis":null},
   "y":{"field":"nhi","type":"quantitative","scale":{"domain":[0,1.5],"range":[337.3,270]},"axis":null},
   "color":{"field":"s","type":"nominal","scale":{"domain":["d4","d6","SM 1","SM2","DM2","e6","Control","gPluxH"],"range":["#A23CF0","#7D4DC6","#F5A6A9","#E8464E","#A31F25","#C9C62B","#000000","#000000"]},"legend":null}}},
 {"data":{"name":"di"},"mark":{"type":"line","strokeWidth":0.9},
  "encoding":{"x":{"field":"x","type":"quantitative","scale":{"type":"symlog","constant":0.02,"domain":[0,1000],"range":[640,742.7]},
    "axis":{"orient":"bottom","offset":-185.7,"values":[0,0.036,0.1,1,10,100,1000],"labelExpr":"datum.value > 0.03 && datum.value < 0.05 ? '' : format(datum.value, '~g')","domain":false,"tickSize":2.5,"tickWidth":0.8,"labelFontSize":5.5,"labelPadding":1,"title":null}},
   "y":{"field":"n","type":"quantitative","scale":{"domain":[0,1.5],"range":[337.3,270]},
    "axis":{"orient":"left","offset":-640,"values":[0,0.5,1,1.5],"format":".1f","domainWidth":1,"tickSize":2.5,"tickWidth":0.8,"labelFontSize":5.5,"labelPadding":1,"title":null}},
   "color":{"field":"s","type":"nominal","scale":{"domain":["d4","d6","SM 1","SM2","DM2","e6","Control","gPluxH"],"range":["#A23CF0","#7D4DC6","#F5A6A9","#E8464E","#A31F25","#C9C62B","#000000","#000000"]},"legend":null},
   "strokeDash":{"field":"s","type":"nominal","scale":{"domain":["d4","d6","SM 1","SM2","DM2","e6","Control","gPluxH"],"range":[[1,0],[1,0],[1,0],[1,0],[1,0],[1,0],[3,2],[1,0]]},"legend":null}}},
 {"data":{"name":"di"},"mark":{"type":"point","filled":true,"size":5,"opacity":1,"shape":"square"},
  "encoding":{"x":{"field":"x","type":"quantitative","scale":{"type":"symlog","constant":0.02,"domain":[0,1000],"range":[640,742.7]},
    "axis":{"orient":"bottom","offset":-185.7,"values":[0.2,0.3,0.4,0.5,0.6,0.7,0.8,0.9,2,3,4,5,6,7,8,9,20,30,40,50,60,70,80,90,200,300,400,500,600,700,800,900],"labels":false,"domain":false,"tickSize":1.5,"tickWidth":0.6,"title":"Normalized on max values","titleFontSize":6.8,"titleFontWeight":"bold","titleX":700.5,"titleY":-75.3,"titleAlign":"center","titleBaseline":"middle"}},
   "y":{"field":"n","type":"quantitative","scale":{"domain":[0,1.5],"range":[337.3,270]},"axis":null},
   "color":{"field":"s","type":"nominal","scale":{"domain":["d4","d6","SM 1","SM2","DM2","e6","Control","gPluxH"],"range":["#A23CF0","#7D4DC6","#F5A6A9","#E8464E","#A31F25","#C9C62B","#000000","#000000"]},"legend":null}}},
 {"data":{"name":"gap"},"mark":{"type":"rect","color":"white"},
  "encoding":{"x":{"field":"a","type":"quantitative","scale":{"type":"symlog","constant":0.02,"domain":[0,1000],"range":[640,742.7]},"axis":null},"x2":{"field":"b"},
   "y":{"datum":0,"type":"quantitative","scale":{"domain":[0,1.5],"range":[337.3,270]},"axis":null},"y2":{"datum":1.5}}},
 {"data":{"name":"brk"},"mark":{"type":"rule","color":"black","strokeWidth":1},
  "encoding":{"x":{"field":"a","type":"quantitative","scale":{"type":"symlog","constant":0.02,"domain":[0,1000],"range":[640,742.7]},"axis":null},"x2":{"field":"b"},
   "y":{"datum":0,"type":"quantitative","scale":{"domain":[0,1.5],"range":[337.3,270]},"axis":null}}}
],"resolve":{"axis":{"x":"independent","y":"independent"}}}
],
"resolve":{"scale":{"x":"independent","y":"independent","color":"independent","fill":"independent","stroke":"independent","shape":"independent","size":"independent","strokeDash":"independent","strokeWidth":"independent"},"axis":{"x":"independent","y":"independent"},"legend":{"color":"independent","fill":"independent","stroke":"independent","shape":"independent","size":"independent","strokeDash":"independent","strokeWidth":"independent"}}
}
